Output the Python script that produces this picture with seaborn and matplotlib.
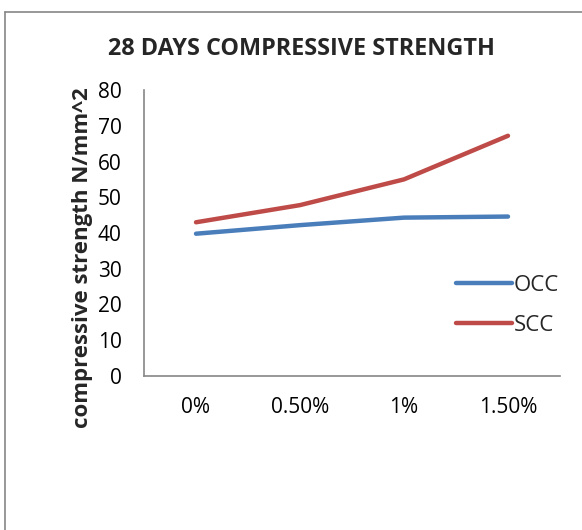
import matplotlib
matplotlib.use("Agg")
import matplotlib.pyplot as plt
import seaborn as sns
import pandas as pd
from matplotlib.lines import Line2D

categories = ["0%", "0.50%", "1%", "1.50%"]
occ = [39.8, 42.2, 44.3, 44.6]
scc = [43.0, 47.8, 55.0, 67.2]
series_names = ["OCC", "SCC"]
colors = ["#4A7EBB", "#BE4B48"]

df = pd.DataFrame({
    "cat": categories * 2,
    "val": occ + scc,
    "series": [series_names[0]] * 4 + [series_names[1]] * 4,
})
df["x"] = [categories.index(c) for c in df["cat"]]

sns.set_style("white")
plt.rcParams["font.family"] = ["Open Sans", "DejaVu Sans"]

fig = plt.figure(figsize=(5.82, 5.30), dpi=100)
ax = fig.add_axes([144/582, 1-376/530, (560-144)/582, (376-90)/530])

sns.lineplot(data=df, x="x", y="val", hue="series", palette=colors,
             linewidth=3.2, ax=ax, legend=False, sort=False)
for l in ax.lines:
    l.set_solid_capstyle("round")

ax.set_xlim(-0.5, 3.5)
ax.set_ylim(0, 80)
ax.set_yticks(range(0, 81, 10))
ax.set_xticks(range(4))
ax.set_xticklabels(categories)
ax.tick_params(axis="both", length=0, labelsize=15, colors="black")
ax.tick_params(axis="x", pad=15)
ax.tick_params(axis="y", pad=16)
ax.set_xlabel("")
ax.set_ylabel("compressive strength N/mm^2", fontsize=16, fontweight="bold")
ax.yaxis.set_label_coords((93-144)/416, (376-258)/286)
for s in ["top", "right"]:
    ax.spines[s].set_visible(False)
for s in ["left", "bottom"]:
    ax.spines[s].set_color("#868686")
    ax.spines[s].set_linewidth(1.2)

fig.text(301/582, 1-49/530, "28 DAYS COMPRESSIVE STRENGTH", ha="center", va="center",
         fontsize=16.8, fontweight="bold")

handles = [Line2D([], [], color=c, linewidth=3.2, solid_capstyle="round") for c in colors]
fig.legend(handles, series_names, loc="upper left", bbox_to_anchor=(456/582, 1-275/530),
           frameon=False, fontsize=16, handlelength=2.5, handletextpad=0.1,
           labelspacing=0.85, borderaxespad=0, borderpad=0)

fig.add_artist(Line2D([5/582, 5/582], [0, 1-12/530], transform=fig.transFigure, color="#868686", linewidth=1.2))
fig.add_artist(Line2D([5/582, 1], [1-12/530, 1-12/530], transform=fig.transFigure, color="#868686", linewidth=1.2))

fig.savefig("out.png", dpi=100)
